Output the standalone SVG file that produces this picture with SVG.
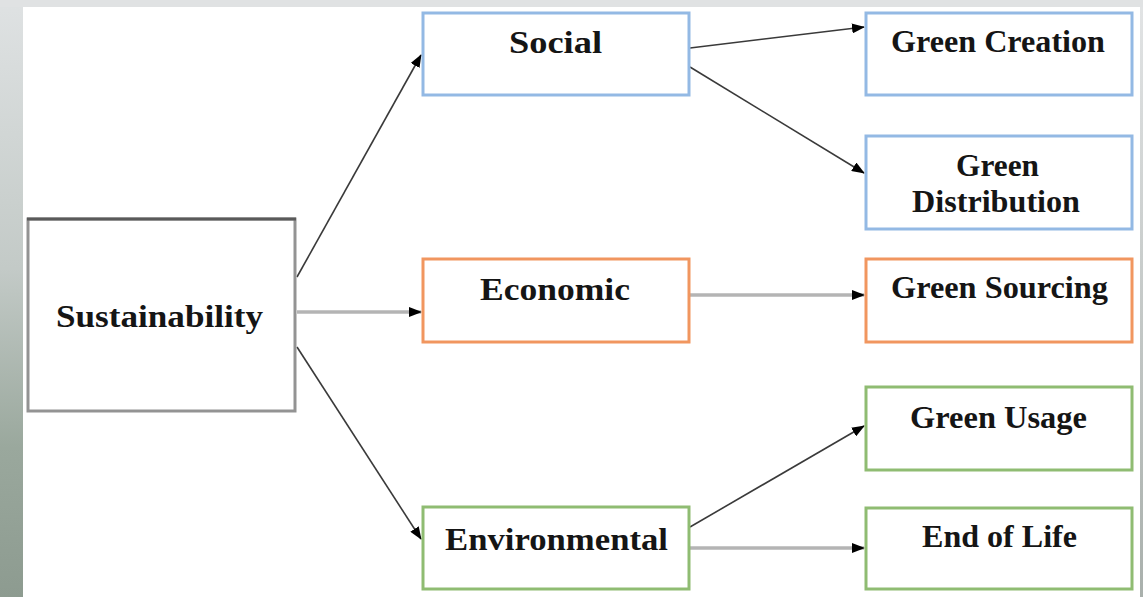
<svg xmlns="http://www.w3.org/2000/svg" width="1143" height="597" viewBox="0 0 1143 597">
<defs>
<linearGradient id="bgL" x1="0" y1="0" x2="0" y2="1">
<stop offset="0" stop-color="#dfe2e3"/>
<stop offset="0.45" stop-color="#c3cac7"/>
<stop offset="0.75" stop-color="#9aa89d"/>
<stop offset="1" stop-color="#8d9b90"/>
</linearGradient>
<linearGradient id="bgR" x1="0" y1="0" x2="0" y2="1">
<stop offset="0" stop-color="#e2e4e5"/>
<stop offset="1" stop-color="#a9b0ac"/>
</linearGradient>
<marker id="ah" markerUnits="userSpaceOnUse" markerWidth="13" markerHeight="10" refX="12" refY="5" orient="auto">
<path d="M0,0 L13,5 L0,10 z" fill="#000"/>
</marker>
<style>
.t{font-family:"Liberation Serif","Times New Roman",serif;font-weight:bold;font-size:31px;fill:#151515}
.box{fill:#fff;stroke-width:3}
.blue{stroke:#93b9e4}
.orange{stroke:#f1965f}
.green{stroke:#8fbc72}
.gray{stroke:#939393}
.d{stroke:#3a3a3a;stroke-width:1.6;fill:none}
.h{stroke:#b4b4b4;stroke-width:3.5;fill:none}
</style>
</defs>
<rect x="0" y="0" width="1143" height="597" fill="url(#bgR)"/>
<rect x="0" y="0" width="23" height="597" fill="url(#bgL)"/>
<rect x="0" y="0" width="1143" height="7" fill="#e0e2e3"/>
<rect x="23" y="7" width="1117" height="590" fill="#fff"/>

<g id="connectors">
<line class="d" x1="297" y1="277" x2="421" y2="55" marker-end="url(#ah)"/>
<line class="h" x1="297" y1="312" x2="421" y2="312" marker-end="url(#ah)"/>
<line class="d" x1="297" y1="347" x2="421" y2="539" marker-end="url(#ah)"/>
<line class="d" x1="690" y1="48" x2="864" y2="27" marker-end="url(#ah)"/>
<line class="d" x1="690" y1="67" x2="864" y2="173" marker-end="url(#ah)"/>
<line class="h" x1="690" y1="295" x2="864" y2="295" marker-end="url(#ah)"/>
<line class="d" x1="690" y1="527" x2="864" y2="426" marker-end="url(#ah)"/>
<line class="h" x1="690" y1="548" x2="864" y2="548" marker-end="url(#ah)"/>
</g>

<g id="sustainability">
<rect class="box gray" x="28" y="219" width="267" height="192"/>
<line x1="27" y1="219" x2="296" y2="219" stroke="#5a5a5a" stroke-width="3"/>
<text class="t" x="56" y="327" textLength="207" lengthAdjust="spacingAndGlyphs">Sustainability</text>
</g>
<g id="social">
<rect class="box blue" x="423" y="13" width="266" height="82"/>
<text class="t" x="509" y="53" textLength="93" lengthAdjust="spacingAndGlyphs">Social</text>
</g>
<g id="economic">
<rect class="box orange" x="423" y="259" width="266" height="83"/>
<text class="t" x="480" y="300" textLength="150" lengthAdjust="spacingAndGlyphs">Economic</text>
</g>
<g id="environmental">
<rect class="box green" x="423" y="507" width="266" height="82"/>
<text class="t" x="445" y="550" textLength="223" lengthAdjust="spacingAndGlyphs">Environmental</text>
</g>
<g id="green-creation">
<rect class="box blue" x="866" y="13" width="266" height="82"/>
<text class="t" x="891" y="52" textLength="214" lengthAdjust="spacingAndGlyphs">Green Creation</text>
</g>
<g id="green-distribution">
<rect class="box blue" x="866" y="136" width="266" height="93"/>
<text class="t" x="956" y="176" textLength="83" lengthAdjust="spacingAndGlyphs">Green</text>
<text class="t" x="912" y="212" textLength="168" lengthAdjust="spacingAndGlyphs">Distribution</text>
</g>
<g id="green-sourcing">
<rect class="box orange" x="866" y="259" width="266" height="83"/>
<text class="t" x="891" y="298" textLength="217" lengthAdjust="spacingAndGlyphs">Green Sourcing</text>
</g>
<g id="green-usage">
<rect class="box green" x="866" y="387" width="266" height="83"/>
<text class="t" x="910" y="428" textLength="177" lengthAdjust="spacingAndGlyphs">Green Usage</text>
</g>
<g id="end-of-life">
<rect class="box green" x="866" y="508" width="266" height="81"/>
<text class="t" x="922" y="547" textLength="155" lengthAdjust="spacingAndGlyphs">End of Life</text>
</g>
</svg>
